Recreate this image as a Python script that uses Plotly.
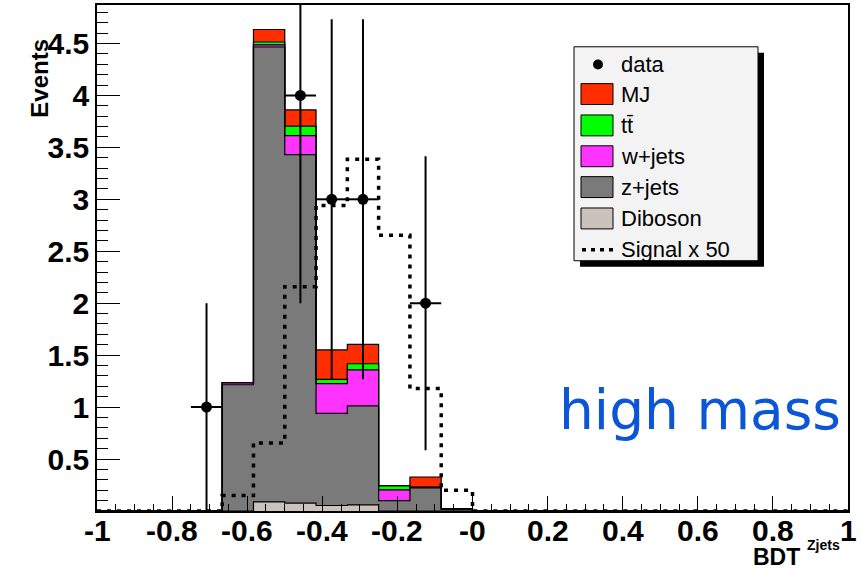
import numpy as np
import plotly.graph_objects as go

# ---------------- data ----------------
n_bins = 24
x_min, x_max = -1.0, 1.0

diboson = [0, 0, 0, 0, 0, 0.088, 0.075, 0.053, 0.059, 0, 0, 0,
           0, 0, 0, 0, 0, 0, 0, 0, 0, 0, 0, 0]
zjets = [0, 0, 0, 0, 1.215, 4.378, 3.355, 0.886, 0.952, 0.100, 0.222, 0.020,
         0, 0, 0, 0, 0, 0, 0, 0, 0, 0, 0, 0]
wjets = [0, 0, 0, 0, 0.020, 0.020, 0.182, 0.287, 0.348, 0.103, 0.005, 0,
         0, 0, 0, 0, 0, 0, 0, 0, 0, 0, 0, 0]
ttbar = [0, 0, 0, 0, 0, 0.028, 0.093, 0.041, 0.058, 0.041, 0.004, 0,
         0, 0, 0, 0, 0, 0, 0, 0, 0, 0, 0, 0]
mj = [0, 0, 0, 0, 0, 0.120, 0.156, 0.284, 0.187, 0, 0.096, 0,
      0, 0, 0, 0, 0, 0, 0, 0, 0, 0, 0, 0]
signal_x50 = [0, 0, 0, 0, 0.148, 0.655, 2.159, 2.940, 3.386, 2.653, 1.178, 0.199,
              0, 0, 0, 0, 0, 0, 0, 0, 0, 0, 0, 0]

data_bins = [3, 6, 7, 8, 10]
data_counts = [1, 4, 3, 3, 2]

x_tickvals = [-1, -0.8, -0.6, -0.4, -0.2, 0, 0.2, 0.4, 0.6, 0.8, 1]
x_ticktext = ["-1", "-0.8", "-0.6", "-0.4", "-0.2", "-0", "0.2", "0.4", "0.6", "0.8", "1"]
y_tickvals = [0.5, 1, 1.5, 2, 2.5, 3, 3.5, 4, 4.5]
y_ticktext = ["0.5", "1", "1.5", "2", "2.5", "3", "3.5", "4", "4.5"]

legend_labels = ["data", "MJ", "tt\u0304", "w+jets", "z+jets", "Diboson", "Signal x 50"]

# ---------------- styles ----------------
c_mj = "#ff2d00"
c_tt = "#00ff00"
c_w = "#ff33ff"
c_z = "#7a7a7a"
c_db = "#cbc3bb"
FONT = "Liberation Sans"

W, H = 861, 574
L, R, T, B = 97, 13, 3, 62.5
PW, PH = W - L - R, H - T - B


def px(xp):
    return (xp - L) / PW


def py(yp):
    return (H - B - yp) / PH


edges = np.linspace(x_min, x_max, n_bins + 1)
centers = 0.5 * (edges[:-1] + edges[1:])
bw = edges[1] - edges[0]

fig = go.Figure()
layers = [("Diboson", diboson, c_db), ("z+jets", zjets, c_z),
          ("w+jets", wjets, c_w), ("tt", ttbar, c_tt), ("MJ", mj, c_mj)]
for name, vals, col in layers:
    fig.add_trace(go.Bar(x=centers, y=vals, width=bw, name=name,
                         marker=dict(color=col, line=dict(width=0)),
                         showlegend=False))

# histogram outlines of each cumulative stack level
cum = np.zeros(n_bins)
for name, vals, col in layers:
    cum = cum + np.array(vals, dtype=float)
    fig.add_trace(go.Scatter(x=edges, y=list(cum) + [cum[-1]], mode="lines",
                             line=dict(shape="hv", color="black", width=1.2),
                             hoverinfo="skip", showlegend=False))

fig.add_trace(go.Scatter(x=edges, y=list(signal_x50) + [signal_x50[-1]], mode="lines",
                         line=dict(shape="hv", color="black", width=3.5, dash="4px,6px"),
                         showlegend=False))

dx = [centers[i] for i in data_bins]
fig.add_trace(go.Scatter(x=dx, y=data_counts, mode="markers",
                         marker=dict(color="black", size=11),
                         error_y=dict(type="data", array=list(np.sqrt(data_counts)),
                                      color="black", thickness=2, width=0),
                         error_x=dict(type="constant", value=bw / 2, color="black",
                                      thickness=2, width=0),
                         showlegend=False))

fig.update_layout(
    width=W, height=H, barmode="stack", bargap=0,
    margin=dict(l=L, r=R, t=T, b=B),
    plot_bgcolor="white", paper_bgcolor="white",
    font=dict(family=FONT, color="black"),
    xaxis=dict(range=[x_min, x_max], tickvals=x_tickvals, showticklabels=False,
               ticks="inside", ticklen=15, tickwidth=1, tickcolor="black",
               showline=True, linecolor="black", linewidth=1.5, mirror=True,
               showgrid=False, zeroline=False,
               minor=dict(dtick=0.05, ticks="inside", ticklen=7, tickcolor="black")),
    yaxis=dict(range=[0, 4.87], tickvals=y_tickvals, ticktext=y_ticktext,
               ticks="inside", ticklen=23, tickwidth=1, tickcolor="black",
               showline=True, linecolor="black", linewidth=1.5, mirror=True,
               showgrid=False, zeroline=False,
               tickfont=dict(size=30, weight="bold", family=FONT),
               minor=dict(dtick=0.1, ticks="inside", ticklen=11, tickcolor="black")),
)

shapes = []
ann = []
# x tick labels (placed like ROOT, close under the axis)
for v, t in zip(x_tickvals, x_ticktext):
    ann.append(dict(xref="x", yref="paper", x=v, y=py(531.5), text="<b>%s</b>" % t,
                    showarrow=False, xanchor="center", yanchor="middle",
                    font=dict(size=30, family=FONT, color="black")))
# legend box with shadow
shapes.append(dict(type="rect", xref="paper", yref="paper",
                   x0=px(580), x1=px(764), y0=py(266), y1=py(51),
                   fillcolor="black", line=dict(width=0)))
shapes.append(dict(type="rect", xref="paper", yref="paper",
                   x0=px(574), x1=px(758), y0=py(260), y1=py(45),
                   fillcolor="#f3f3f3", line=dict(color="black", width=1)))
rows = [62.7, 92.5, 124, 155, 186, 217.5, 249]
shapes.append(dict(type="circle", xref="paper", yref="paper",
                   x0=px(593), x1=px(603), y0=py(rows[0] + 5), y1=py(rows[0] - 5),
                   fillcolor="black", line=dict(color="black", width=0)))
for r, col in zip(rows[1:6], [c_mj, c_tt, c_w, c_z, c_db]):
    shapes.append(dict(type="rect", xref="paper", yref="paper",
                       x0=px(581), x1=px(613), y0=py(r + 10.5), y1=py(r - 10.5),
                       fillcolor=col, line=dict(color="black", width=1)))
shapes.append(dict(type="line", xref="paper", yref="paper",
                   x0=px(582), x1=px(614), y0=py(rows[6]), y1=py(rows[6]),
                   line=dict(color="black", width=3.5, dash="4px,5px")))
for r, lab in zip(rows, legend_labels):
    ann.append(dict(xref="paper", yref="paper", x=px(619), y=py(r), text=lab,
                    showarrow=False, xanchor="left", yanchor="middle",
                    font=dict(size=22, family=FONT, color="black")))

ann.append(dict(xref="paper", yref="paper", x=px(40), y=py(77), text="<b>Events</b>",
                textangle=-90, showarrow=False, xanchor="center", yanchor="middle",
                font=dict(size=24, family=FONT, color="black")))
ann.append(dict(xref="paper", yref="paper", x=px(776), y=py(558), text="<b>BDT</b>",
                showarrow=False, xanchor="center", yanchor="middle",
                font=dict(size=23, family=FONT, color="black")))
ann.append(dict(xref="paper", yref="paper", x=px(823), y=py(546), text="<b>Zjets</b>",
                showarrow=False, xanchor="center", yanchor="middle",
                font=dict(size=14, family=FONT, color="black")))
ann.append(dict(xref="paper", yref="paper", x=px(700), y=py(410), text="high mass",
                showarrow=False, xanchor="center", yanchor="middle",
                font=dict(size=55, family="DejaVu Sans", color="#0a56d6")))

fig.update_layout(shapes=shapes, annotations=ann)
fig.write_html("out.html")
